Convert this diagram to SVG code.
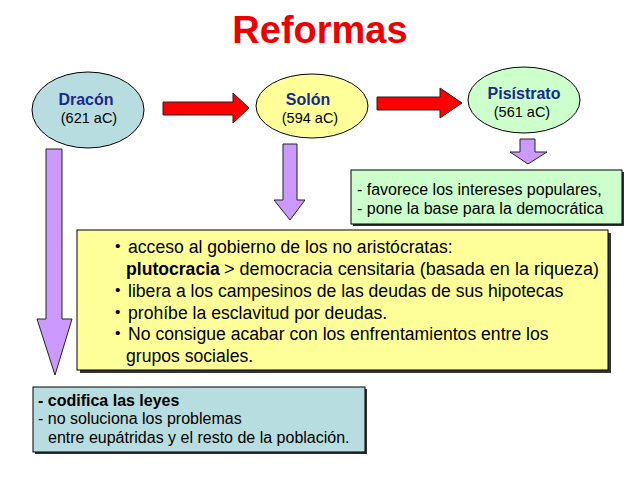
<svg xmlns="http://www.w3.org/2000/svg" width="640" height="480" viewBox="0 0 640 480">
<style>
text{font-family:"Liberation Sans",Arial,sans-serif;fill:#000}
.title{font-size:38px;font-weight:bold;fill:#ee0000}
.name{font-size:16px;font-weight:bold;fill:#1a2a8a}
.date{font-size:14.5px}
.node{stroke:#000;stroke-width:1}
.down{fill:#cc99ff;stroke:#222;stroke-width:1}
.red{fill:#ff0000;stroke:#222;stroke-width:1}
.box{stroke:#000;stroke-width:1}
.shadow{fill:#333}
.t18{font-size:17.6px}
.t16{font-size:16px}
.bul{font-size:15.5px}
</style>
<rect width="640" height="480" fill="#fff"/>
<text class="title" x="320" y="43" text-anchor="middle">Reformas</text>

<g id="connectors">
<polygon class="red" points="163,102 233,102 233,93 249,108 233,123 233,115 163,115"/>
<polygon class="red" points="377,97 440,97 440,88 462,103 440,118 440,110 377,110"/>
<polygon class="down" points="46,149 62,149 62,319 72,319 55,375 37,319 46,319"/>
<polygon class="down" points="283,144 297,144 297,200 305,200 290,220 274,200 283,200"/>
<polygon class="down" points="520,139 535,139 535,152 547,152 528,164 510,152 520,152"/>
</g>

<g id="dracon">
<ellipse class="node" cx="88" cy="110" rx="56" ry="38" fill="#b8dde0"/>
<text class="name" x="86" y="105" text-anchor="middle">Dracón</text>
<text class="date" x="89" y="123" text-anchor="middle">(621 aC)</text>
</g>
<g id="solon">
<ellipse class="node" cx="312" cy="106" rx="56" ry="32" fill="#ffff99"/>
<text class="name" x="308" y="105" text-anchor="middle">Solón</text>
<text class="date" x="310" y="123" text-anchor="middle">(594 aC)</text>
</g>
<g id="pisistrato">
<ellipse class="node" cx="524" cy="100" rx="56" ry="33" fill="#ccffcc"/>
<text class="name" x="524" y="99" text-anchor="middle">Pisístrato</text>
<text class="date" x="522" y="117" text-anchor="middle">(561 aC)</text>
</g>

<g id="box-pisistrato">
<rect class="shadow" x="353" y="172" width="271" height="54"/>
<rect class="box" x="351" y="170" width="271" height="54" fill="#ccffcc"/>
<text class="t16" x="357" y="195">- favorece los intereses populares,</text>
<text class="t16" x="357" y="214">- pone la base para la democrática</text>
</g>

<g id="box-solon">
<rect class="shadow" x="80" y="233" width="531" height="140"/>
<rect class="box" x="77" y="230" width="531" height="140" fill="#ffff99"/>
<text class="bul" x="115" y="251">•</text>
<text class="t18" x="128" y="253">acceso al gobierno de los no aristócratas:</text>
<text class="t18" x="126" y="275" font-weight="bold" font-size="17">plutocracia</text>
<text class="t18" x="224" y="275" textLength="375" lengthAdjust="spacingAndGlyphs">&gt; democracia censitaria (basada en la riqueza)</text>
<text class="bul" x="115" y="295">•</text>
<text class="t18" x="128" y="297">libera a los campesinos de las deudas de sus hipotecas</text>
<text class="bul" x="115" y="317">•</text>
<text class="t18" x="128" y="319">prohíbe la esclavitud por deudas.</text>
<text class="bul" x="115" y="338">•</text>
<text class="t18" x="128" y="340">No consigue acabar con los enfrentamientos entre los</text>
<text class="t18" x="126" y="362">grupos sociales.</text>
</g>

<g id="box-dracon">
<rect class="shadow" x="35" y="389" width="332" height="65"/>
<rect class="box" x="33" y="387" width="332" height="65" fill="#b8dde0"/>
<text class="t16" x="38" y="406" font-weight="bold">- codifica las leyes</text>
<text class="t16" x="38" y="424">- no soluciona los problemas</text>
<text class="t16" x="48" y="443">entre eupátridas y el resto de la población.</text>
</g>
</svg>
